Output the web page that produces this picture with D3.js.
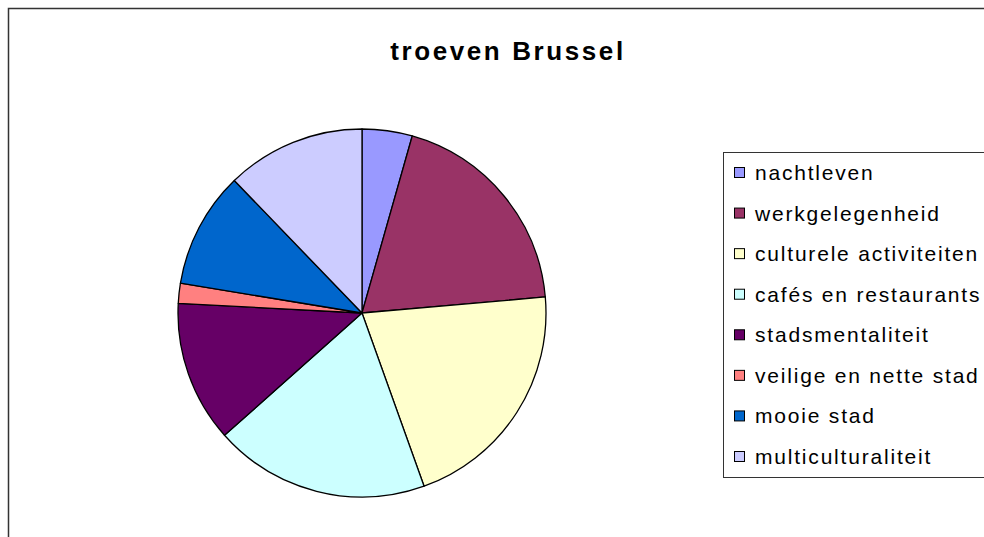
<!DOCTYPE html>
<html>
<head>
<meta charset="utf-8">
<script src="https://cdn.jsdelivr.net/npm/d3@7"></script>
<style>
  body { margin: 0; background: #fff; }
  svg { display: block; font-family: Arial, "Liberation Sans", sans-serif; }
</style>
</head>
<body>
<svg id="chart" width="984" height="537"></svg>
<script>
const categories = [
  "nachtleven", "werkgelegenheid", "culturele activiteiten", "cafés en restaurants",
  "stadsmentaliteit", "veilige en nette stad", "mooie stad", "multiculturaliteit"
];
const values = [4.4, 19.2, 20.9, 18.9, 12.4, 1.75, 10.2, 12.2];
const colors = ["#9999ff", "#993366", "#ffffcc", "#ccffff", "#660066", "#ff8080", "#0066cc", "#ccccff"];

const svg = d3.select("#chart");

// outer chart frame (right/bottom edges fall outside the view)
svg.append("rect")
  .attr("x", 8.5).attr("y", 8.5)
  .attr("width", 1000).attr("height", 600)
  .attr("fill", "none")
  .attr("stroke", "#333")
  .attr("stroke-width", 1.5);

svg.append("text")
  .attr("x", 508).attr("y", 60)
  .attr("text-anchor", "middle")
  .attr("font-size", 26)
  .attr("font-weight", "bold")
  .attr("letter-spacing", 2.6)
  .text("troeven Brussel");

const data = categories.map((c, i) => ({ name: c, value: values[i], color: colors[i] }));

const pie = d3.pie().sort(null).value(d => d.value);
const arc = d3.arc().innerRadius(0).outerRadius(184);

svg.append("g")
  .attr("transform", "translate(362,313)")
  .selectAll("path")
  .data(pie(data))
  .join("path")
  .attr("d", arc)
  .attr("fill", d => d.data.color)
  .attr("stroke", "#000")
  .attr("stroke-width", 1.3)
  .attr("stroke-linejoin", "round");

// legend
const legend = svg.append("g");
legend.append("rect")
  .attr("x", 723.5).attr("y", 152.5)
  .attr("width", 300).attr("height", 325)
  .attr("fill", "#fff")
  .attr("stroke", "#333")
  .attr("stroke-width", 1);

const y = d3.scalePoint().domain(categories).range([173, 457]);

const items = legend.selectAll("g.item")
  .data(data)
  .join("g")
  .attr("class", "item")
  .attr("transform", d => `translate(0,${y(d.name)})`);

items.append("rect")
  .attr("x", 734.5).attr("y", -5.5)
  .attr("width", 10).attr("height", 10)
  .attr("fill", d => d.color)
  .attr("stroke", "#000")
  .attr("stroke-width", 1);

items.append("text")
  .attr("x", 755).attr("y", 7)
  .attr("font-size", 21)
  .attr("letter-spacing", 1.8)
  .attr("fill", "#000")
  .text(d => d.name);
</script>
</body>
</html>
